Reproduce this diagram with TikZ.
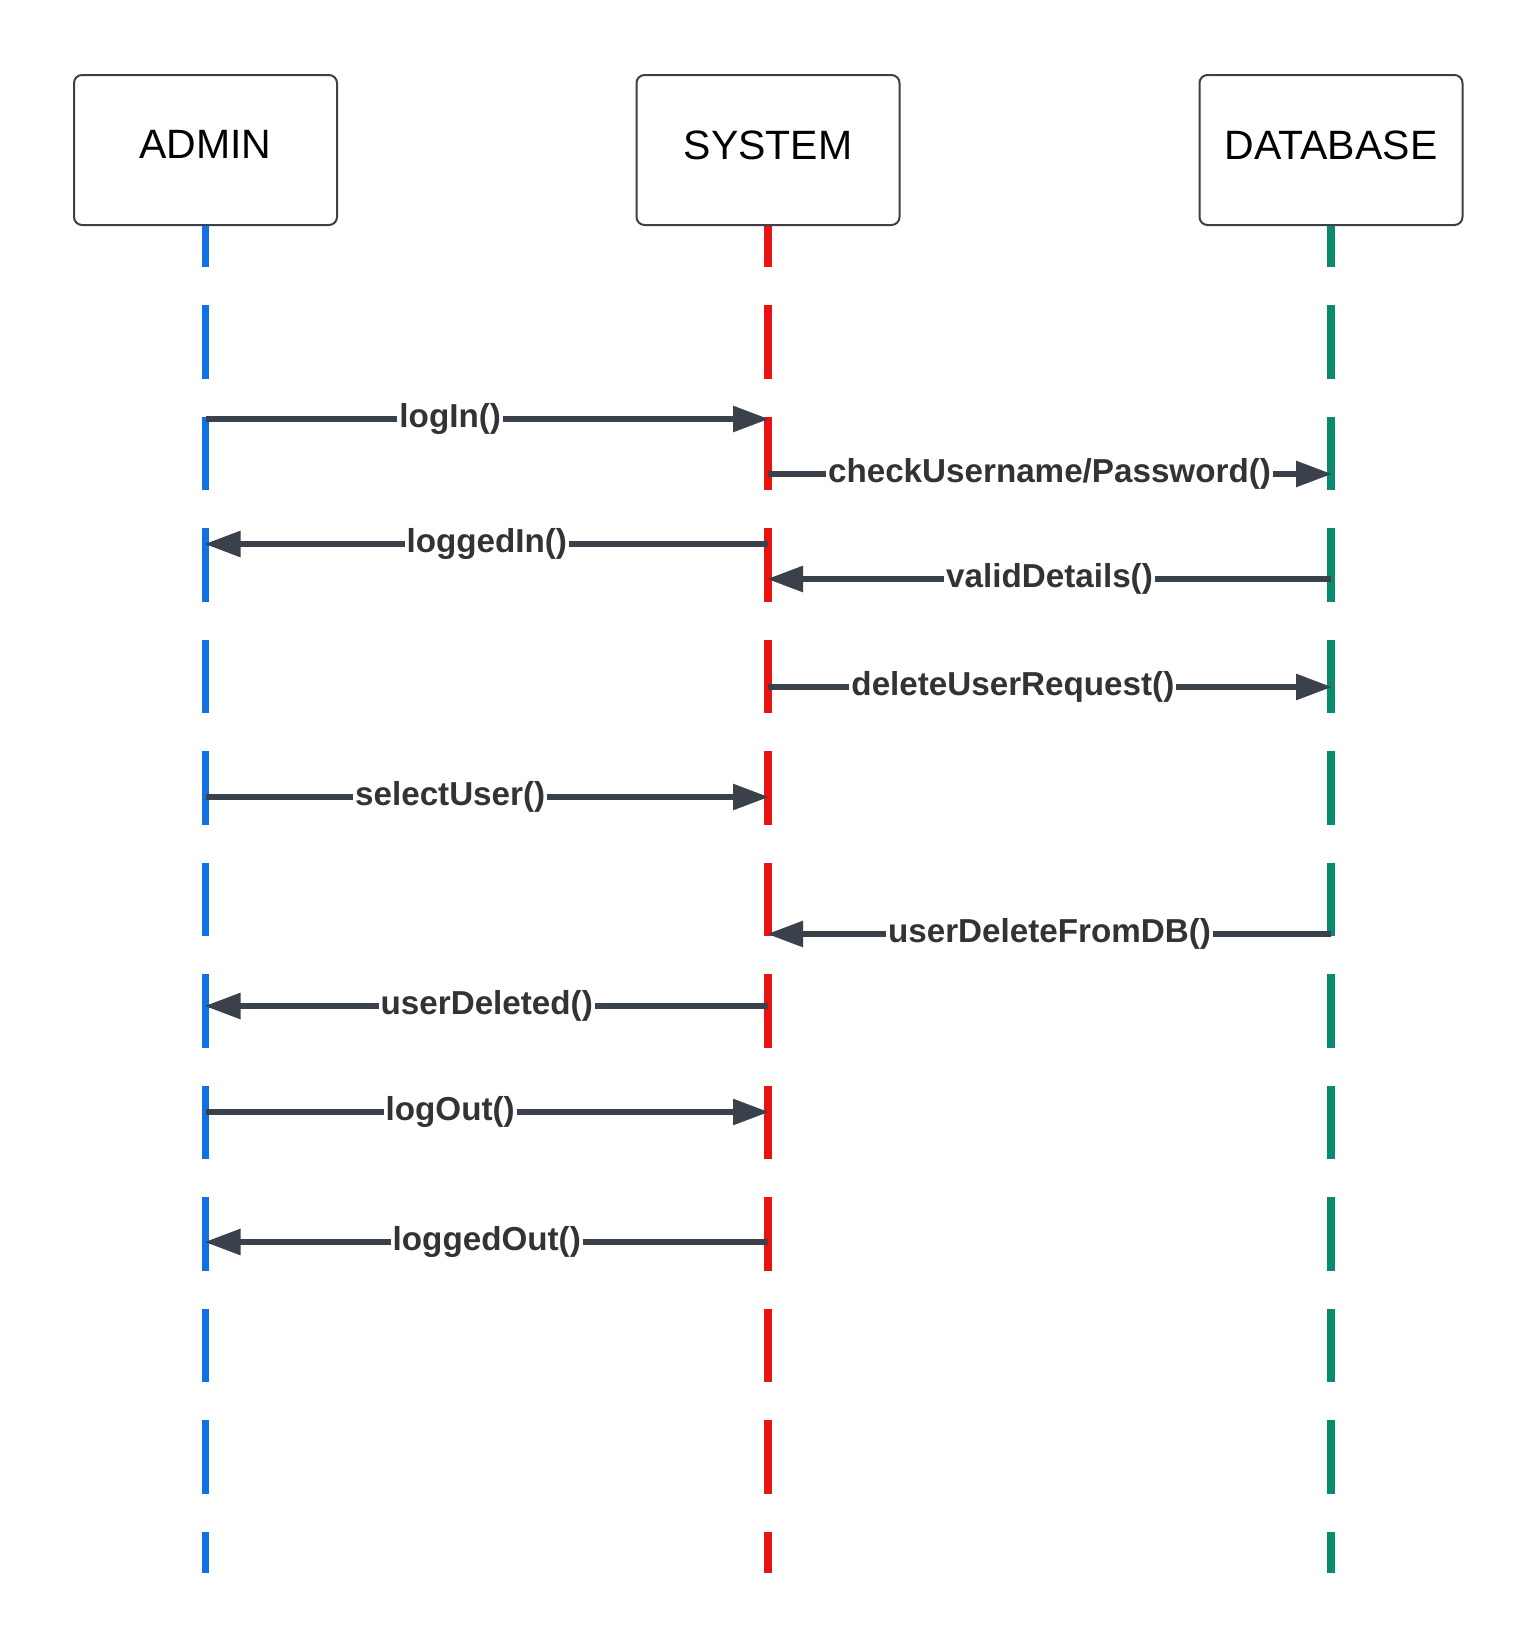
\documentclass[tikz,border=0pt]{standalone}
\usepackage{fontspec}
\setmainfont{Liberation Sans}
\usetikzlibrary{
    arrows.meta,
    positioning,
    calc,
}
\definecolor{lineblue}{HTML}{1071E5}
\definecolor{linered}{HTML}{E81313}
\definecolor{linegreen}{HTML}{0A8A6F}
\definecolor{arrowgray}{HTML}{3A414A}
\definecolor{textgray}{HTML}{333333}

\begin{document}
\begin{tikzpicture}[
    x=0.5pt, y=-0.5pt,
    actor/.style={draw=arrowgray, line width=1pt, rounded corners=4pt, fill=white,
        minimum width=131.5pt, minimum height=75pt, text depth=5.3pt,
        font=\fontsize{20.5pt}{24pt}\selectfont},
    lifeline/.style={line width=3.6pt, dash pattern=on 36.8pt off 18.95pt, dash phase=16.25pt},
    call/.style={draw=arrowgray, line width=2.9pt, -{Triangle[length=18pt, width=12.5pt]}, shorten >=-0.5pt},
    reply/.style={call},
    msgtext/.style={fill=white, inner sep=1pt, text=textgray,
        font=\bfseries\fontsize{16.6pt}{19pt}\selectfont},
]

\useasboundingbox (0,0) rectangle (1538,1650);

\node[actor] (admin) at (205.5,150) {ADMIN};
\node[actor] (system) at (768,150) {SYSTEM};
\node[actor] (database) at (1331,150) {DATABASE};

\coordinate (admin-end) at (205.5,1573);
\coordinate (system-end) at (768,1573);
\coordinate (database-end) at (1331,1573);

\draw[lifeline, lineblue] (admin.south) -- (admin-end);
\draw[lifeline, linered] (system.south) -- (system-end);
\draw[lifeline, linegreen] (database.south) -- (database-end);

\draw[call] (admin |- 0,419) -- node[msgtext, pos=0.435] {logIn()} (system |- 0,419);
\draw[call] (system |- 0,474) -- node[msgtext, pos=0.5] {checkUsername/Password()} (database |- 0,474);
\draw[reply] (system |- 0,544) -- node[msgtext, pos=0.5] {loggedIn()} (admin |- 0,544);
\draw[reply] (database |- 0,579) -- node[msgtext, pos=0.5] {validDetails()} (system |- 0,579);
\draw[call] (system |- 0,687) -- node[msgtext, pos=0.435] {deleteUserRequest()} (database |- 0,687);
\draw[call] (admin |- 0,797) -- node[msgtext, pos=0.435] {selectUser()} (system |- 0,797);
\draw[reply] (database |- 0,934) -- node[msgtext, pos=0.5] {userDeleteFromDB()} (system |- 0,934);
\draw[reply] (system |- 0,1006) -- node[msgtext, pos=0.5] {userDeleted()} (admin |- 0,1006);
\draw[call] (admin |- 0,1112) -- node[msgtext, pos=0.435] {logOut()} (system |- 0,1112);
\draw[reply] (system |- 0,1242) -- node[msgtext, pos=0.5] {loggedOut()} (admin |- 0,1242);

\end{tikzpicture}
\end{document}
